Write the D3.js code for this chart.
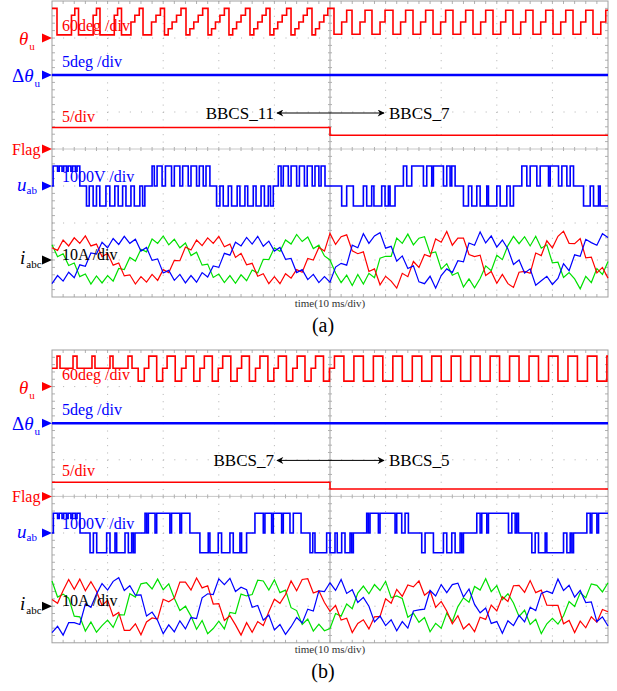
<!DOCTYPE html>
<html>

<head>
  <meta charset="utf-8">
  <title>BBCS switching</title>
  <script src="https://cdn.jsdelivr.net/npm/d3@7"></script>
  <style>
    body { margin: 0; background: #fff; }
    text { font-family: "Liberation Serif", "Times New Roman", serif; }
  </style>
</head>

<body>
  <svg width="617" height="691" id="mainsvg" style="display: block;"></svg>
  <script>
    // ---- data (time in ms, 10 ms/div) ----
    // theta_u steps [ms, deg]
    const thetaA = [[0,48],
      [0.9,5],[3.5,37],[4.1,48], [4.77,5],[7.4,37],[8.0,48], [8.63,5],[11.2,37],[11.8,48],
      [12.5,5],[14.2,26],[14.9,37],[15.7,48], [16.37,5],[17.9,26],[18.7,37],[19.5,48],
      [20.23,5],[20.9,15],[21.6,26],[22.4,37],[23.2,48], [24.1,5],[24.8,15],[25.5,26],[26.3,37],[27.1,48],
      [28.06,5],[28.7,15],[29.4,26],[30.2,37],[31.0,48], [31.83,5],[32.5,15],[33.2,26],[34.0,37],[34.8,48],
      [35.61,5],[36.3,15],[37.0,26],[37.8,37],[38.5,48], [39.2,5],[39.9,15],[40.6,26],[41.4,37],[42.2,48],
      [42.99,5],[43.7,15],[44.4,26],[45.2,37],[45.9,48], [46.76,5],[47.4,15],[48.1,26],[48.9,37],[49.6,48],
      [50.72,6],[52.1,26],[53.0,45], [53.96,6],[55.4,26],[56.3,45], [57.55,6],[59.0,26],[59.9,45],
      [61.33,6],[62.7,26],[63.6,45], [64.93,6],[66.3,26],[67.2,45], [68.53,6],[69.9,26],[70.8,45],
      [72.12,6],[73.5,26],[74.4,45], [75.72,6],[77.1,26],[78.0,45], [79.32,6],[80.7,26],[81.6,45],
      [82.91,6],[84.3,26],[85.2,45], [86.51,6],[87.9,26],[88.8,45], [90.11,6],[91.5,26],[92.4,45],
      [93.71,6],[95.1,26],[96.0,45], [97.3,6],[98.7,26],[99.6,45], [100,45]];
    const thetaB = [[0,30],
      [0.9,50],[1.44,30],[3.78,50],[4.5,30],[7.19,50],[7.73,30],[10.43,50],[10.97,30],[13.67,50],[14.39,30],
      [15.5,9],[16.6,30],[17.4,50], [18.83,9],[19.9,30],[20.7,50], [22.16,9],[23.3,30],[24.1,50],
      [25.5,9],[26.6,30],[27.4,50], [28.83,9],[29.9,30],[30.7,50], [32.16,9],[33.3,30],[34.1,50],
      [35.5,9],[36.6,30],[37.4,50], [38.83,9],[39.9,30],[40.7,50], [42.16,9],[43.3,30],[44.1,50],
      [45.5,9],[46.6,30],[47.4,50], [48.83,9],[49.9,30],
      [50.8,50],[52.5,9],[54.3,50],[56.0,9],[57.8,50],[59.5,9],[61.3,50],[63.0,9],[64.8,50],[66.5,9],
      [68.3,50],[70.0,9],[71.8,50],[73.5,9],[75.3,50],[77.0,9],[78.8,50],[80.5,9],[82.3,50],[84.0,9],
      [85.8,50],[87.5,9],[89.3,50],[91.0,9],[92.8,50],[94.5,9],[96.3,50],[98.0,9],[99.8,50],[100,50]];

    // delta theta_u [ms, deg]
    const dthetaA = [[0,0],[100,0]];
    const dthetaB = [[0,0],[100,0]];

    // Flag [ms, value]
    const flagA = [[0,2.9],[50,1.85],[100,1.85]];
    const flagB = [[0,1.95],[50,1.0],[100,1.0]];

    // u_ab steps [ms, V]
    const uabA = [[0,0],[0.2,540],[1.0,400],[1.3,540],[1.8,400],[2.1,540],[2.6,400],[2.9,540],[3.4,400],[3.7,540],[4.2,400],[4.5,540],[5.0,0],
      [6.2,-540],[6.7,0],[7.4,-540],[8.0,0],[8.6,-540],[9.7,0],[10.4,-540],[11.3,0],[11.9,-540],[12.7,0],[13.3,-540],[14.2,0],[14.8,-540],[15.8,0],[16.3,-540],[16.7,0],
      [18.0,540],[18.4,0],[18.9,540],[19.8,0],[20.4,540],[21.5,0],[22.0,540],[23.0,0],[23.5,540],[24.5,0],[25.0,540],[26.0,0],[26.5,540],[27.2,0],[27.7,540],[28.4,0],
      [29.6,-540],[30.2,0],[30.8,-540],[31.7,0],[32.3,-540],[33.3,0],[33.8,-540],[34.7,0],[35.2,-540],[36.2,0],[36.7,-540],[37.6,0],[38.2,-540],[38.9,0],[39.3,-540],[39.8,0],
      [40.7,540],[41.2,0],[41.6,540],[42.5,0],[43.0,540],[44.0,0],[44.5,540],[45.4,0],[45.9,540],[46.8,0],[47.3,540],[48.0,0],[48.4,540],[49.1,0],
      [52.1,-540],[53.0,0],[54.2,-540],[56.0,0],[56.6,-540],[57.5,0],[57.9,-540],[59.3,0],[59.9,-540],[60.5,0],[60.8,-540],[61.7,0],
      [63.2,540],[63.8,0],[64.7,540],[66.8,0],[67.4,540],[68.3,0],[68.6,540],[70.4,0],[71.0,540],[71.6,0],[71.9,540],[72.5,0],
      [74.0,-540],[74.9,0],[75.5,-540],[76.4,0],[77.0,-540],[78.2,0],[78.5,-540],[80.0,0],[80.6,-540],[81.8,0],[82.4,-540],[83.0,0],
      [84.5,540],[85.4,0],[86.0,540],[87.2,0],[87.8,540],[89.3,0],[89.6,540],[91.1,0],[91.7,540],[92.6,0],[93.2,540],[93.8,0],
      [95.6,-540],[96.8,0],[97.4,-540],[98.3,0],[98.6,-540],[100,-540]];
    const uabB = [[0,0],[0.24,540],[1.0,400],[1.3,540],[1.8,400],[2.1,540],[2.6,400],[2.9,540],[3.4,400],[3.7,540],[4.2,400],[4.5,540],[5.04,0],
      [6.84,-540],[7.44,0],[8.04,-540],[9.83,0],[10.43,-540],[11.33,0],[11.63,-540],[13.13,0],[13.73,-540],[14.33,0],[14.63,-540],[14.93,0],
      [16.73,540],[17.03,0],[17.33,540],[18.53,0],[18.83,540],[21.2,0],[21.5,540],[23.0,0],[23.3,540],[24.8,0],
      [26.6,-540],[28.1,0],[28.4,-540],[29.9,0],[30.5,-540],[32.0,0],[32.6,-540],[33.8,0],[34.1,-540],[35.0,0],
      [36.5,540],[38.0,0],[38.3,540],[39.5,0],[39.8,540],[41.3,0],[41.6,540],[42.8,0],[43.4,540],[44.8,0],
      [46.4,-540],[46.9,0],[47.3,-540],[49.4,0],[50.0,-540],[50.9,0],[51.3,-540],[52.1,0],[52.7,-540],[53.6,0],[53.9,-540],[54.2,0],
      [56.6,540],[56.9,0],[57.2,540],[58.7,0],[59.0,540],[61.7,0],[62.0,540],[62.9,0],[63.5,540],[64.1,0],
      [66.5,-540],[67.1,0],[68.6,-540],[70.4,0],[71.0,-540],[71.9,0],[72.5,-540],[73.4,0],[73.7,-540],[74.0,0],
      [76.4,540],[77.0,0],[77.3,540],[78.2,0],[78.5,540],[82.1,0],[82.7,540],[83.3,0],[83.6,540],[83.9,0],
      [86.3,-540],[86.9,0],[87.5,-540],[88.7,0],[89.0,-540],[92.0,0],[92.6,-540],[93.2,0],[93.5,-540],[93.8,0],
      [96.2,540],[96.8,0],[97.1,540],[98.0,0],[98.3,540],[100,540]];

    // phase currents in A, one sample per ms (0..100 ms)
    const iaA = [3.3,2.6,5.4,3.8,6.0,4.5,6.5,3.8,4.3,0.9,1.8,-1.4,-0.8,-4.3,-4.0,-6.5,-4.5,-6.0,-3.9,-5.5,
      -2.6,-3.4,-0.1,-0.2,3.5,2.7,5.4,3.9,6.0,4.5,6.4,3.6,4.3,0.7,1.8,-1.3,-0.9,-4.4,-3.7,-6.4,
      -4.5,-6.4,-3.7,-4.9,-2.6,-3.3,0.4,0.0,3.4,2.4,
      7.2,4.2,6.3,6.8,2.5,1.7,2.2,-3.1,-2.4,-6.7,-4.4,-5.7,-7.6,-3.6,-4.5,-0.4,-2.0,1.5,0.9,5.7,
      4.8,7.7,4.0,5.9,5.9,1.5,0.9,1.3,-4.2,-3.1,-6.3,-3.9,-6.4,-7.4,-3.3,-3.1,-3.6,1.9,1.2,5.2,
      3.3,6.4,7.8,4.5,4.4,5.8,0.6,0.8,-3.5,-2.0,-4.9];
    const ibA = [-6.4,-4.2,-5.7,-3.3,-4.8,-1.3,-1.7,1.9,1.6,4.8,3.3,5.8,4.2,6.4,4.5,5.6,2.4,3.4,-0.1,0.3,
      -3.5,-2.8,-5.5,-3.9,-6.2,-4.2,-6.0,-3.4,-4.6,-1.6,-2.0,1.8,1.3,4.8,3.8,6.1,4.3,6.4,3.7,5.1,
      2.4,3.4,0.2,0.4,-3.4,-2.6,-5.3,-3.9,-6.1,-4.5,
      -6.0,-1.9,-0.9,-1.4,4.0,3.3,7.1,4.5,6.5,7.4,3.2,3.7,-0.3,1.1,-2.3,-1.6,-5.9,-6.4,-4.4,-7.6,
      -4.2,-2.4,-3.4,-0.2,-0.5,4.6,4.0,7.6,4.6,6.5,3.5,5.4,3.0,-1.2,0.0,-3.5,-2.4,-6.8,-5.6,-4.4,
      -6.6,-5.0,-1.0,-2.9,1.4,1.0,5.6,4.7,4.0,7.1,6.1];
    const icA = [4.1,0.9,1.7,-1.5,-0.8,-4.5,-3.8,-6.5,-4.3,-6.2,-4.2,-5.7,-2.3,-2.6,0.7,-0.3,2.9,2.2,5.7,4.5,
      6.5,4.1,5.6,3.3,4.6,1.2,2.1,-1.4,-1.1,-4.7,-3.8,-6.1,-4.2,-6.3,-4.0,-5.6,-2.7,-3.5,0.2,0.1,
      3.3,2.3,5.4,4.3,6.9,5.0,6.2,3.1,4.0,1.1,
      0.0,-3.5,-6.1,-4.1,-6.9,-3.9,-6.5,-3.6,-4.8,0.5,1.0,1.0,5.9,4.5,7.0,4.1,5.9,6.3,1.8,2.2,
      -2.5,-1.0,-4.1,-3.4,-7.3,-5.1,-7.5,-5.0,-1.6,-2.9,1.3,0.1,3.9,6.4,4.4,6.3,3.8,6.4,3.2,4.1,
      -0.8,-0.6,-4.7,-3.4,-5.1,-7.8,-4.4,-6.1,-2.3,-3.9,-0.4];
    const iaB = [1.8,0.8,4.3,7.3,4.6,7.4,4.2,6.7,4.1,0.2,1.6,-2.7,-1.7,-6.6,-6.6,-4.8,-7.8,-4.3,-3.2,-3.5,
      1.9,1.2,2.2,6.6,6.6,4.4,7.7,5.0,5.6,0.6,0.7,-3.9,-2.6,-5.1,-7.9,-4.5,-7.1,-4.2,-5.3,-1.5,
      1.9,0.8,3.2,6.9,4.2,7.3,7.5,3.6,4.2,1.0,
      -1.4,0.2,-3.8,-3.3,-7.2,-4.7,-3.7,-6.2,-2.9,-2.8,2.0,0.8,4.6,2.7,5.8,5.3,6.9,3.0,4.2,-0.3,
      1.3,-1.3,-4.8,-2.6,-6.2,-4.8,-7.0,-3.0,-3.6,0.3,-1.3,2.6,1.3,5.6,5.7,3.8,7.0,3.7,4.4,0.3,
      0.2,0.2,-4.8,-3.9,-7.2,-4.1,-5.9,-2.9,-4.4,-0.9,-1.5];
    const ibB = [-7.2,-5.5,-7.9,-4.5,-4.5,-5.0,0.6,-0.3,3.3,6.2,4.4,6.8,7.8,4.3,5.6,3.0,3.1,-2.7,-1.6,-3.9,
      -7.5,-5.1,-7.0,-4.0,-6.2,-3.1,-3.4,2.3,3.4,3.2,7.5,5.9,7.6,4.0,5.2,4.5,-0.3,0.2,-3.8,-2.4,
      -6.5,-5.0,-7.7,-5.6,-3.1,-4.6,-0.8,-1.3,4.2,4.0,
      6.4,4.3,7.3,3.5,4.5,1.0,2.4,0.0,-4.3,-2.7,-5.3,-3.7,-6.7,-4.2,-6.0,-1.3,-1.0,-0.8,4.3,2.8,
      5.9,3.7,5.9,6.3,2.5,4.7,0.5,-1.8,-0.5,-4.7,-4.2,-7.4,-4.0,-5.3,-2.5,-4.3,-0.3,-1.2,3.5,4.1,
      3.5,7.4,4.3,5.7,2.5,4.3,1.0,1.2,-4.2,-2.9,-5.4];
    const icB = [6.9,2.5,3.3,2.2,-2.7,-2.9,-6.8,-4.3,-7.1,-5.3,-3.8,-5.8,-2.3,-2.4,3.4,2.5,6.1,6.4,4.7,7.4,
      4.5,6.1,2.2,-1.2,0.0,-2.7,-6.3,-3.9,-7.5,-6.1,-4.1,-6.2,-1.7,-2.0,3.3,2.8,3.2,7.1,6.9,4.4,
      7.2,3.7,4.4,-0.4,-1.2,-5.0,-3.5,-6.8,-4.9,-6.7,
      -6.1,-2.0,-2.7,0.6,-0.7,3.6,5.5,3.4,5.9,4.3,6.8,2.3,2.8,2.1,-3.0,-1.9,-4.4,-3.1,-7.0,-4.7,
      -6.0,-1.9,-4.2,-0.1,2.3,1.1,5.4,4.4,7.5,4.0,5.6,1.8,3.4,0.9,-2.8,-1.1,-5.0,-3.6,-7.5,-4.8,
      -3.3,-4.9,-2.6,1.3,-0.1,3.7,2.3,6.1,5.7,3.9,6.4];

    const modesA = ['BBCS_11', 'BBCS_7'];
    const modesB = ['BBCS_7', 'BBCS_5'];

    // ---- drawing ----
    const svg = d3.select('#mainsvg');
    const X0 = 52, X1 = 608, DX = (X1 - X0) / 10;
    const x = d3.scaleLinear().domain([0, 100]).range([X0, X1]);
    const RED = '#ff0000', BLUE = '#0000ff', GREEN = '#00e000';

    svg.append('defs').append('marker')
      .attr('id', 'arr').attr('viewBox', '0 0 10 10')
      .attr('refX', 9).attr('refY', 5)
      .attr('markerWidth', 9).attr('markerHeight', 7)
      .attr('markerUnits', 'userSpaceOnUse')
      .attr('orient', 'auto-start-reverse')
      .append('path').attr('d', 'M0,0L10,5L0,10L3,5Z').attr('fill', '#000');

    const panels = [
      { top: 1, div: 37, theta: thetaA, dtheta: dthetaA, flag: flagA, uab: uabA, ia: iaA, ib: ibA, ic: icA, modes: modesA, name: '(a)' },
      { top: 350, div: 36.6, theta: thetaB, dtheta: dthetaB, flag: flagB, uab: uabB, ia: iaB, ib: ibB, ic: icB, modes: modesB, name: '(b)' }
    ];

    const drawPanel = function (p) {
      const g = svg.append('g');
      const row = k => p.top + k * p.div;
      const yFor = (r, perDiv) => d3.scaleLinear().domain([0, perDiv]).range([row(r), row(r) - p.div]);
      const yTh = yFor(1, 60), yDt = yFor(2, 5), yFl = yFor(4, 5), yU = yFor(5, 1000), yI = yFor(7, 10);

      // grid
      const grid = g.append('g').attr('fill', 'none').attr('stroke', '#b0b0b0').attr('stroke-width', 1);
      grid.selectAll('.vg').data([1, 2, 3, 4, 6, 7, 8, 9]).join('line')
        .attr('x1', k => X0 + k * DX).attr('x2', k => X0 + k * DX)
        .attr('y1', row(0)).attr('y2', row(8))
        .attr('stroke-dasharray', `1 ${p.div / 5 - 1}`);
      grid.selectAll('.hg').data([1, 2, 3, 5, 6, 7]).join('line')
        .attr('x1', X0).attr('x2', X1)
        .attr('y1', k => row(k)).attr('y2', k => row(k))
        .attr('stroke-dasharray', `1 ${DX / 5 - 1}`);
      grid.append('line').attr('x1', x(50)).attr('x2', x(50)).attr('y1', row(0)).attr('y2', row(8)).attr('stroke', '#a0a0a0');
      grid.append('line').attr('x1', X0).attr('x2', X1).attr('y1', row(4)).attr('y2', row(4)).attr('stroke', '#c8c8c8');
      const minY = d3.range(1, 40).map(m => p.top + m * p.div / 5);
      const minX = d3.range(1, 50).map(m => X0 + m * DX / 5);
      grid.selectAll('.tc').data(minY).join('line')
        .attr('x1', x(50) - 2).attr('x2', x(50) + 2).attr('y1', d => d).attr('y2', d => d);
      grid.selectAll('.tl').data(minY).join('line')
        .attr('x1', X0).attr('x2', X0 + 3).attr('y1', d => d).attr('y2', d => d);
      grid.selectAll('.tr').data(minY).join('line')
        .attr('x1', X1 - 3).attr('x2', X1).attr('y1', d => d).attr('y2', d => d);
      grid.selectAll('.th').data(minX).join('line')
        .attr('x1', d => d).attr('x2', d => d).attr('y1', row(4) - 2).attr('y2', row(4) + 2);
      grid.selectAll('.tt').data(minX).join('line')
        .attr('x1', d => d).attr('x2', d => d).attr('y1', row(0)).attr('y2', row(0) + 3);
      grid.selectAll('.tb').data(minX).join('line')
        .attr('x1', d => d).attr('x2', d => d).attr('y1', row(8) - 3).attr('y2', row(8));
      grid.append('rect').attr('x', X0).attr('y', row(0)).attr('width', X1 - X0).attr('height', 8 * p.div)
        .attr('stroke', '#a0a0a0');

      // traces
      const step = y => d3.line().curve(d3.curveStepAfter).x(d => x(d[0])).y(d => y(d[1]));
      const smp = y => d3.line().x((d, i) => x(i)).y(d => y(d));
      const tr = g.append('g').attr('fill', 'none').attr('stroke-linejoin', 'miter');
      tr.append('path').attr('d', step(yTh)(p.theta)).attr('stroke', RED).attr('stroke-width', 1.6);
      tr.append('path').attr('d', step(yDt)(p.dtheta)).attr('stroke', BLUE).attr('stroke-width', 2.6);
      tr.append('path').attr('d', step(yFl)(p.flag)).attr('stroke', RED).attr('stroke-width', 1.5);
      tr.append('path').attr('d', step(yU)(p.uab)).attr('stroke', BLUE).attr('stroke-width', 1.6);
      tr.append('path').attr('d', smp(yI)(p.ic)).attr('stroke', GREEN).attr('stroke-width', 1.2);
      tr.append('path').attr('d', smp(yI)(p.ia)).attr('stroke', RED).attr('stroke-width', 1.2);
      tr.append('path').attr('d', smp(yI)(p.ib)).attr('stroke', BLUE).attr('stroke-width', 1.2);

      // scale notes
      const note = (txt, yy, col) => g.append('text').attr('x', 62).attr('y', yy)
        .attr('fill', col).attr('font-size', 16).text(txt);
      note('60deg /div', row(1) - 7, RED);
      note('5deg /div', row(2) - 8, BLUE);
      note('5/div', yFl(p.flag[0][1]) - 6, RED);
      note('1000V /div', row(5) - 4, BLUE);
      note('10A /div', row(7), '#000');

      // mode switch annotation
      const ay = row(4) - 36;
      g.append('line').attr('x1', 277).attr('x2', 384).attr('y1', ay).attr('y2', ay)
        .attr('stroke', '#000').attr('stroke-width', 1)
        .attr('marker-start', 'url(#arr)').attr('marker-end', 'url(#arr)');
      g.append('text').attr('x', 274).attr('y', ay + 5.5).attr('text-anchor', 'end')
        .attr('font-size', 17).text(p.modes[0]);
      g.append('text').attr('x', 389).attr('y', ay + 5.5).attr('font-size', 17).text(p.modes[1]);

      // channel markers
      const mk = [[1, RED], [2, BLUE], [4, RED], [5, BLUE], [7, '#000']];
      g.selectAll('.mk').data(mk).join('path')
        .attr('d', d => `M${X0 - 10},${row(d[0]) - 4.5}L${X0},${row(d[0])}L${X0 - 10},${row(d[0]) + 4.5}Z`)
        .attr('fill', d => d[1]);

      // channel names
      const t1 = g.append('text').attr('x', 19).attr('y', row(1) + 7).attr('fill', RED).attr('font-size', 19);
      t1.append('tspan').attr('font-style', 'italic').text('θ');
      t1.append('tspan').attr('font-size', 11).attr('dx', 1).attr('dy', 5).text('u');
      const t2 = g.append('text').attr('x', 12).attr('y', row(2) + 7).attr('fill', BLUE).attr('font-size', 19);
      t2.append('tspan').text('Δ');
      t2.append('tspan').attr('font-style', 'italic').text('θ');
      t2.append('tspan').attr('font-size', 11).attr('dx', 1).attr('dy', 5).text('u');
      g.append('text').attr('x', 12).attr('y', row(4) + 6).attr('fill', RED).attr('font-size', 16).text('Flag');
      const t4 = g.append('text').attr('x', 17).attr('y', row(5) + 5).attr('fill', BLUE).attr('font-size', 19);
      t4.append('tspan').attr('font-style', 'italic').text('u');
      t4.append('tspan').attr('font-size', 11).attr('dy', 3).text('ab');
      const t5 = g.append('text').attr('x', 20).attr('y', row(7) + 4).attr('fill', '#000').attr('font-size', 19);
      t5.append('tspan').attr('font-style', 'italic').text('i');
      t5.append('tspan').attr('font-size', 11).attr('dx', 1).attr('dy', 4).text('abc');

      // time base and caption
      g.append('text').attr('x', x(50)).attr('y', row(8) + 10).attr('text-anchor', 'middle')
        .attr('font-size', 11).attr('fill', '#333').text('time(10 ms/div)');
      g.append('text').attr('x', 323).attr('y', row(8) + 35).attr('text-anchor', 'middle')
        .attr('font-size', 20).text(p.name);
    }

    panels.forEach(drawPanel);
  </script>
</body>

</html>
